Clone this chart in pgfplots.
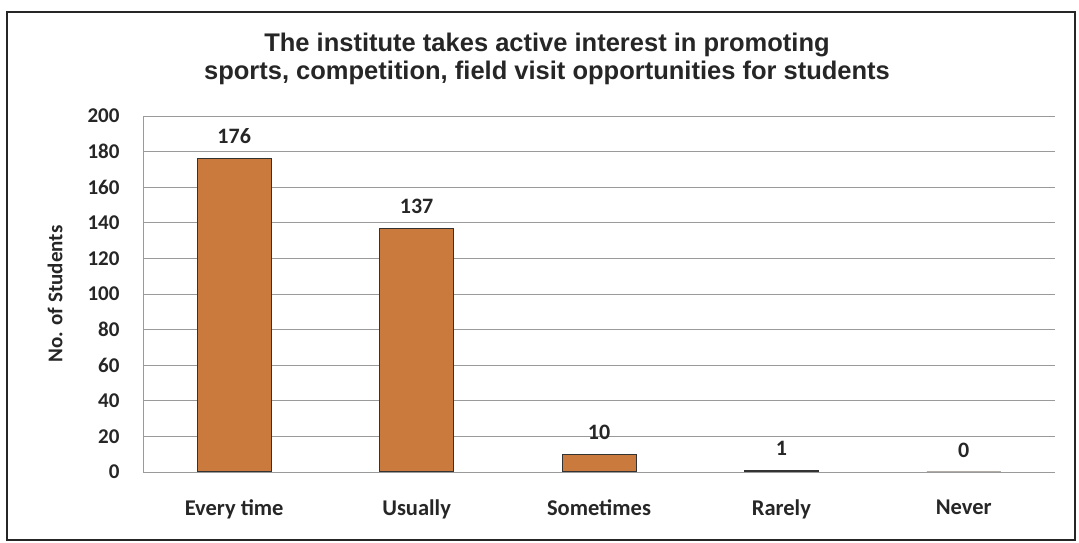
\documentclass[border=0pt]{standalone}
\usepackage{fontspec}
\setmainfont{Carlito}
\newfontfamily\titlefont{Liberation Sans}
\usepackage{pgfplots}
\pgfplotsset{compat=1.18}
\definecolor{barfill}{HTML}{C97A3C}
\definecolor{gridc}{HTML}{9A9A9A}
\begin{document}
\begin{tikzpicture}[x=1pt,y=1pt]
\path[use as bounding box] (0,0) rectangle (1079,543);
\draw[line width=2.5pt, black!85] (7,3) rectangle (1075,531);
\node[align=center, font=\titlefont\fontsize{25.5}{28}\selectfont\bfseries, text=black!85]
  at (547,484) {The institute takes active interest in promoting\\sports, competition, field visit opportunities for students};
\begin{axis}[
    at={(143pt,71pt)}, anchor=south west,
    scale only axis,
    width=912pt, height=356pt,
    ymin=0, ymax=200,
    ytick={0,20,...,200},
    xmin=-0.5, xmax=4.5,
    xtick={0,1,2,3,4},
    xticklabels={Every time, Usually, Sometimes, Rarely, Never},
    ymajorgrids,
    grid style={gridc, line width=0.8pt},
    axis line style={gridc, line width=0.8pt},
    axis x line*=bottom,
    axis y line*=left,
    major tick length=0pt,
    tick label style={font=\fontsize{21}{23}\selectfont\bfseries, text=black!85},
    /pgf/number format/assume math mode=true,
    yticklabel style={xshift=-20pt},
    xticklabel style={font=\fontsize{22.5}{24}\selectfont\bfseries, yshift=-24pt},
    ylabel={No. of Students},
    ylabel style={font=\fontsize{21}{23}\selectfont\bfseries, text=black!85,
      at={(rel axis cs:0,0.5)}, anchor=center, yshift=88pt},
    ybar, bar width=74pt,
    nodes near coords,
    nodes near coords style={font=\fontsize{22}{24}\selectfont\bfseries, text=black!85, yshift=11pt},
]
\addplot[fill=barfill, draw=black!80, line width=1pt] coordinates {(0,176) (1,137) (2,10) (3,1) (4,0)};
\end{axis}
\end{tikzpicture}
\end{document}
